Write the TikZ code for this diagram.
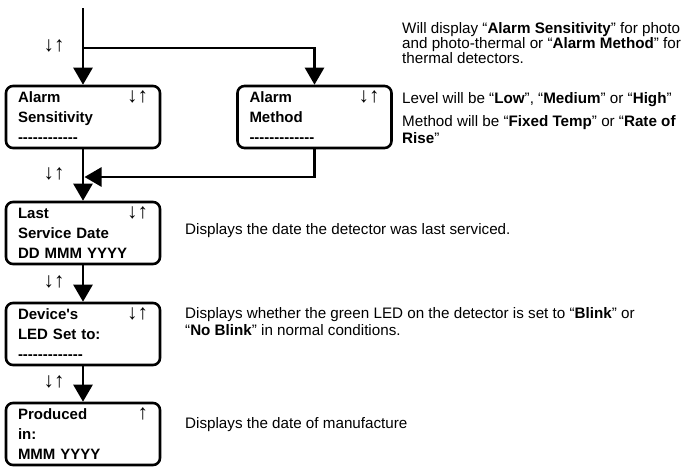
\documentclass[tikz,border=0pt]{standalone}
\usepackage{fontspec}
\setmainfont{Liberation Sans}[Ligatures=TeXOff]
\usetikzlibrary{calc,arrows.meta,positioning}
\newcommand\updn{\smash{\fontsize{21}{15}\selectfont\mdseries↓↑}}
\newcommand\uponly{\smash{\fontsize{21}{15}\selectfont\mdseries↑}}

\begin{document}
\begin{tikzpicture}[x=1pt, y=-1pt,
  disp/.style={draw, line width=2.6pt, rounded corners=7pt, minimum height=62pt,
               text width=130pt, inner xsep=12pt, align=left,
               font=\bfseries\fontsize{15}{20}\selectfont},
  note/.style={anchor=north west, inner sep=0pt, align=left,
               font=\fontsize{15.2}{15}\selectfont},
  keys/.style={inner sep=0pt},
  arr/.style={-{Triangle[length=17pt, width=19pt]}, line width=2.6pt}]
\useasboundingbox (0,0) rectangle (687,467);
%% menu screens
\node[disp] (sens) at (83,117)    {Alarm\hfill\updn\\Sensitivity\\------------};
\node[disp] (meth) at (314.5,117) {Alarm\hfill\updn\\Method\\-------------};
\node[disp] (serv) at (83,233)    {Last\hfill\updn\\Service Date\\DD MMM YYYY};
\node[disp] (led)  at (83,334)    {Device's\hfill\updn\\LED Set to:\\-------------};
\node[disp] (made) at (83,434)    {Produced\hfill\uponly\\in:\\MMM YYYY};
%% key hints
\foreach \y [count=\i] in {51,179,287,387} \node[keys] (key\i) at (54,\y) {\updn};
%% notes
\node[note] (n1) at (402,22) {Will display “\textbf{Alarm Sensitivity}” for photo\\
  and photo-thermal or “\textbf{Alarm Method}” for\\thermal detectors.};
\node[note] (n2) at (402,92) {Level will be “\textbf{Low}”, “\textbf{Medium}” or “\textbf{High}”};
\node[note] (n3) at (402,115) {Method will be “\textbf{Fixed Temp}” or “\textbf{Rate of}\\[2pt]
  \textbf{Rise}”};
\node[note] (n4) at (185,223) {Displays the date the detector was last serviced.};
\node[note] (n5) at (185,307) {Displays whether the green LED on the detector is set to “\textbf{Blink}” or\\[2pt]
  “\textbf{No Blink}” in normal conditions.};
\node[note] (n6) at (185,417) {Displays the date of manufacture};
%% connectors
\coordinate (start) at (83,8);
\coordinate (fork) at (83,48);
\coordinate (merge) at (84.5,177);
\draw[arr] (start) -- (sens.north);
\draw[arr] (fork) -| (meth.north);
\draw[arr] (meth.south) |- (merge);
\draw[arr] (sens.south) -- (serv.north);
\draw[arr] (serv.south) -- (led.north);
\draw[arr] (led.south) -- (made.north);
\end{tikzpicture}
\end{document}
